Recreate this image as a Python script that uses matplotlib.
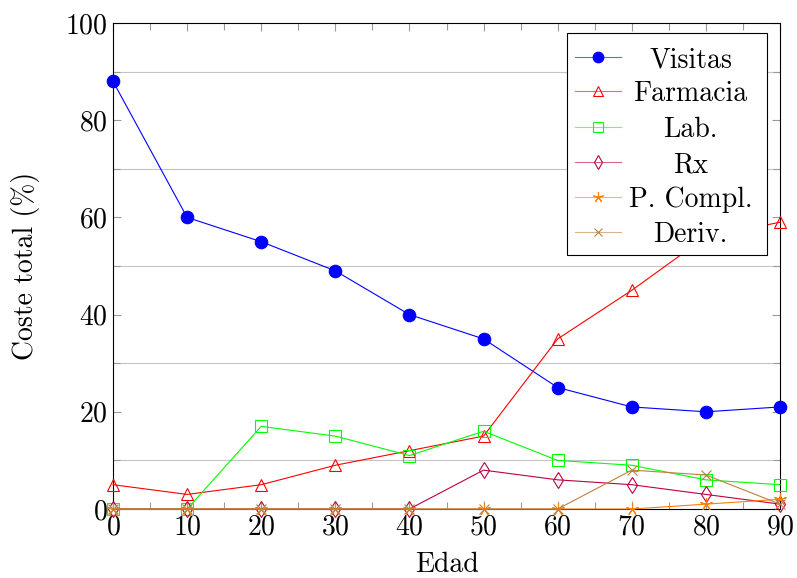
import matplotlib
matplotlib.use("Agg")
import matplotlib.pyplot as plt
from matplotlib.lines import Line2D
from matplotlib.patches import Rectangle

# ── data ───────────────────────────────────────────────────────────────────
edad = [0, 10, 20, 30, 40, 50, 60, 70, 80, 90]
visitas = [88, 60, 55, 49, 40, 35, 25, 21, 20, 21]
farmacia = [5, 3, 5, 9, 12, 15, 35, 45, 56, 59]
lab = [0, 0, 17, 15, 11, 16, 10, 9, 6, 5]
rx = [0, 0, 0, 0, 0, 8, 6, 5, 3, 1]
p_compl = [0, 0, 0, 0, 0, 0, 0, 0, 1, 2]
deriv = [0, 0, 0, 0, 0, 0, 0, 8, 7, 1]

labels = ["Visitas", "Farmacia", "Lab.", "Rx", "P. Compl.", "Deriv."]
series = [visitas, farmacia, lab, rx, p_compl, deriv]

# pgfplots-like styles
STYLES = [
    dict(color="#0000ff", marker="o", ms=9, mfc="#0000ff"),
    dict(color="#ff0000", marker="^", ms=8, mfc="none"),
    dict(color="#00ff00", marker="s", ms=8, mfc="none"),
    dict(color="#bf0040", marker="d", ms=8, mfc="none"),
    dict(color="#ff8000", marker=(5, 2, 0), ms=9, mfc="none"),
    dict(color="#bf8040", marker="x", ms=7, mfc="none"),
]

plt.rcParams.update({
    "font.family": "serif",
    "font.serif": ["cmr10"],
    "axes.formatter.use_mathtext": True,
    "font.size": 20,
})

fig = plt.figure(figsize=(7.97, 5.78), dpi=100)
ax = fig.add_axes([113 / 797, 1 - 509 / 578, 667 / 797, 486 / 578])

for vals, st in zip(series, STYLES):
    ax.plot(edad, vals, color=st["color"], lw=0.8, marker=st["marker"],
            ms=st["ms"], mfc=st["mfc"], mec=st["color"], mew=0.8,
            clip_on=False, zorder=3)

ax.set_xlim(0, 90)
ax.set_ylim(0, 100)
ax.set_xticks(range(0, 91, 10))
ax.set_xticks(range(5, 90, 10), minor=True)
ax.set_yticks(range(0, 101, 20))
ax.set_yticks(range(10, 100, 20), minor=True)
ax.grid(which="minor", axis="y", color="#c4c4c4", lw=0.8)
ax.tick_params(which="both", direction="in", top=True, right=True,
               color="#9a9a9a", width=0.8, labelsize=20, pad=4)
ax.tick_params(which="major", length=6)
ax.tick_params(which="minor", length=5)
for sp in ax.spines.values():
    sp.set_color("black")
    sp.set_linewidth(0.8)
    sp.set_zorder(2.5)

ax.set_xlabel("Edad", fontsize=20, labelpad=8)
ax.set_ylabel("Coste total (%)", fontsize=20, labelpad=18)

# legend drawn by hand so the entry texts can be centred, as pgfplots does
box = Rectangle((0.681, 0.523), 0.299, 0.456, transform=ax.transAxes,
                fc="white", ec="black", lw=0.8, zorder=5)
ax.add_patch(box)
row_y = [0.930, 0.860, 0.786, 0.714, 0.642, 0.570]
for y, lab_txt, st in zip(row_y, labels, STYLES):
    ax.add_line(Line2D([0.693, 0.762], [y, y], transform=ax.transAxes,
                       color=st["color"], lw=0.8, alpha=0.6, zorder=6))
    ax.add_line(Line2D([0.727], [y], transform=ax.transAxes,
                       marker=st["marker"], ms=st["ms"] * 0.85, mfc=st["mfc"],
                       mec=st["color"], mew=0.8, ls="none", zorder=7))
    ax.text(0.866, y, lab_txt, transform=ax.transAxes, ha="center",
            va="center_baseline", fontsize=20, zorder=7)

fig.savefig("out.png", dpi=100)
